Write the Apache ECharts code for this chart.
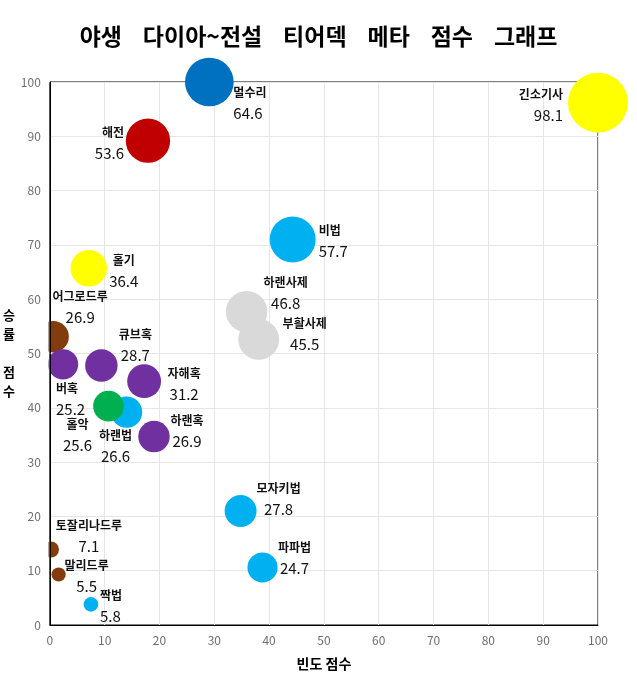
<!DOCTYPE html>
<html>
<head>
<meta charset="utf-8">
<title>야생 다이아~전설 티어덱 메타 점수 그래프</title>
<script src="https://cdn.jsdelivr.net/npm/echarts@6/dist/echarts.min.js"></script>
<style>
  html, body { margin: 0; padding: 0; background: #fff; }
  #chart { width: 637px; height: 676px; }
</style>
</head>
<body>
<div id="chart"></div>
<script>
// 덱 이름 (그리는 순서대로)
const decks = ['멀수리', '긴소기사', '해전', '비법', '하랜사제', '부활사제', '홀기', '어그로드루', '버혹',
  '큐브혹', '자해혹', '하랜법', '홀악', '하랜혹', '모자키법', '파파법', '토잘리나드루', '말리드루', '짝법']
// 빈도 점수 (x)
const freqScore = [29.1, 100, 17.9, 44.3, 35.9, 38.1, 7.1, 0.6, 2.4,
  9.4, 17.2, 14.0, 10.7, 19.0, 34.8, 38.8, 0.2, 1.6, 7.5]
// 승률 점수 (y)
const winScore = [100, 96.2, 89.2, 71.0, 57.7, 52.6, 65.7, 53.1, 48.0,
  47.8, 44.9, 39.2, 40.3, 34.7, 21.0, 10.6, 13.9, 9.3, 3.8]
// 메타 점수 (버블 크기, 라벨)
const metaScore = [64.6, 98.1, 53.6, 57.7, 46.8, 45.5, 36.4, 26.9, 25.2,
  28.7, 31.2, 26.6, 25.6, 26.9, 27.8, 24.7, 7.1, 5.5, 5.8]

// 색
const deckColor = {
  '멀수리': '#0070C0', '긴소기사': '#FFFF00', '해전': '#C00000', '비법': '#00B0F0',
  '하랜사제': '#D9D9D9', '부활사제': '#D9D9D9', '홀기': '#FFFF00', '어그로드루': '#843C0C',
  '버혹': '#7030A0', '큐브혹': '#7030A0', '자해혹': '#7030A0', '하랜법': '#00B0F0',
  '홀악': '#00B050', '하랜혹': '#7030A0', '모자키법': '#00B0F0', '파파법': '#00B0F0',
  '토잘리나드루': '#843C0C', '말리드루': '#843C0C', '짝법': '#00B0F0'
}
// 라벨 위치 [정렬, dx, dy] (버블 중심 기준)
const labelPos = {
  '멀수리': ['left', 24, 21], '긴소기사': ['right', -35, 3], '해전': ['right', -24, 3],
  '비법': ['left', 26, 2], '하랜사제': ['center', 39, -18], '부활사제': ['center', 46, -5],
  '홀기': ['center', 35, 3], '어그로드루': ['center', 27, -29], '버혹': ['left', -7, 35],
  '큐브혹': ['center', 34, -20], '자해혹': ['center', 40, 3], '하랜법': ['center', -11, 34],
  '홀악': ['center', -31, 29], '하랜혹': ['center', 33, -5], '모자키법': ['center', 38, -12],
  '파파법': ['center', 32, -9], '토잘리나드루': ['center', 38, -13], '말리드루': ['center', 28, 2],
  '짝법': ['left', 9, 2]
}

const FONT = '"Noto Sans CJK KR", "Noto Sans", sans-serif'
const grid = { left: 49, right: 39, top: 82, bottom: 46 }

const chart = echarts.init(document.getElementById('chart'))

const seriesData = decks.map((name, i) => {
  const p = labelPos[name]
  return {
    name: name,
    value: [freqScore[i], winScore[i], metaScore[i]],
    itemStyle: { color: deckColor[name], opacity: 1 },
    label: { align: p[0], offset: [p[1], p[2]] }
  }
})

const option = {
  animation: false,
  backgroundColor: '#fff',
  title: {
    text: '야생    다이아~전설    티어덱    메타    점수    그래프',
    left: 'center',
    top: 20,
    textStyle: { fontFamily: FONT, fontSize: 23, fontWeight: 'bold', color: '#000' }
  },
  grid: Object.assign({ show: true, borderColor: '#000', borderWidth: 1, containLabel: false }, grid),
  xAxis: {
    type: 'value',
    min: 0,
    max: 100,
    interval: 10,
    name: '빈도 점수',
    nameLocation: 'middle',
    nameGap: 32,
    nameTextStyle: { fontFamily: FONT, fontSize: 14, fontWeight: 'bold', color: '#000' },
    axisLine: { show: true, lineStyle: { color: '#000', width: 1 } },
    axisTick: { show: false },
    axisLabel: { fontFamily: FONT, fontSize: 12, color: '#6f6f6f', margin: 9 },
    splitLine: { show: true, lineStyle: { color: '#e6e6e6', width: 1 } }
  },
  yAxis: [
    {
      // 격자선 전용
      type: 'value',
      min: 0,
      max: 100,
      interval: 10,
      position: 'left',
      axisLine: { show: false },
      axisTick: { show: false },
      axisLabel: { show: false },
      splitLine: { show: true, lineStyle: { color: '#e6e6e6', width: 1 } }
    },
    {
      // 축선, 눈금 라벨, 이름 (버블 위에 그림)
      type: 'value',
      min: 0,
      max: 100,
      interval: 10,
      position: 'left',
      z: 5,
      name: '승\n률\n \n점\n수',
      nameLocation: 'middle',
      nameRotate: 0,
      nameGap: 30,
      nameTextStyle: { fontFamily: FONT, fontSize: 13, fontWeight: 'bold', color: '#000', lineHeight: 19, padding: [0, 0, 6, 0] },
      axisLine: { show: true, lineStyle: { color: '#000', width: 1 } },
      axisTick: { show: false },
      axisLabel: { fontFamily: FONT, fontSize: 12, color: '#6f6f6f', margin: 9 },
      splitLine: { show: false }
    }
  ],
  // 축 왼쪽으로 나간 버블 부분 가리기
  graphic: [{
    type: 'rect',
    left: 0,
    top: grid.top,
    z: 3,
    shape: { width: grid.left - 0.5, height: 676 - grid.top - grid.bottom },
    style: { fill: '#fff' }
  }],
  series: [{
    type: 'scatter',
    yAxisIndex: 0,
    clip: false,
    z: 2,
    symbol: 'circle',
    symbolSize: (val) => 60 * Math.sqrt(val[2] / 98.1),
    data: seriesData,
    label: {
      show: true,
      position: 'inside',
      verticalAlign: 'middle',
      color: '#111',
      formatter: (p) => '{n|' + p.name + '}\n{v|' + p.value[2].toFixed(1) + '}',
      rich: {
        n: { fontFamily: FONT, fontSize: 12, fontWeight: 'bold', color: '#111', lineHeight: 20 },
        v: { fontFamily: FONT, fontSize: 15, color: '#111', lineHeight: 22 }
      }
    },
    emphasis: { disabled: true }
  }]
}

chart.setOption(option)
</script>
</body>
</html>
